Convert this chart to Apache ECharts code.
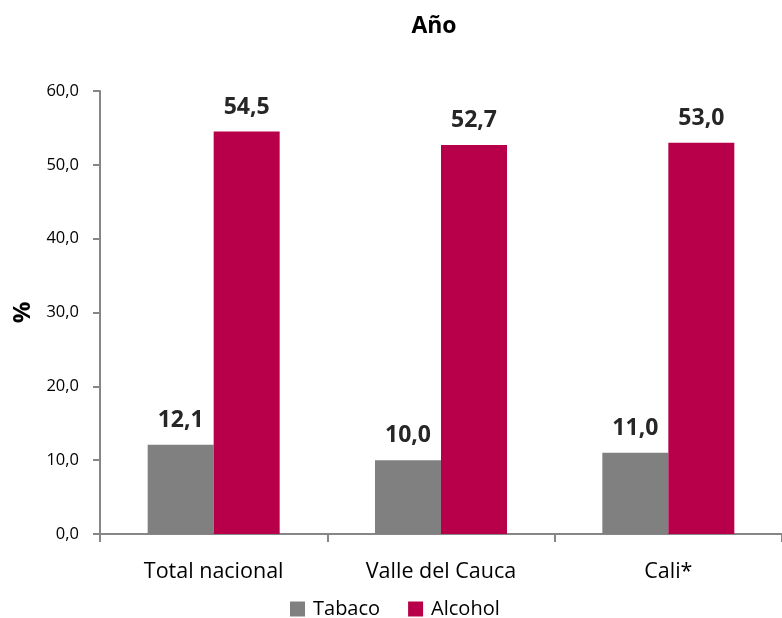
<!DOCTYPE html>
<html><head><meta charset="utf-8">
<script src="https://cdn.jsdelivr.net/npm/echarts@6/dist/echarts.min.js"></script>
<style>html,body{margin:0;padding:0;background:#fff}#c{width:782px;height:618px}</style>
</head><body><div id="c"></div>
<script>
const categories = ['Total nacional', 'Valle del Cauca', 'Cali*'];
const tabaco = [12.1, 10.0, 11.0];
const alcohol = [54.5, 52.7, 53.0];
const yTicks = [0, 10, 20, 30, 40, 50, 60];
const fmt = v => v.toFixed(1).replace('.', ',');
const font = '"Open Sans", "Noto Sans", sans-serif';
const chart = echarts.init(document.getElementById('c'), null, {renderer: 'canvas'});
const lbl = {show: true, position: 'top', distance: 13, fontFamily: font, fontWeight: 'bold', fontSize: 23, color: '#262626', formatter: p => fmt(p.value)};
chart.setOption({
  animation: false,
  textStyle: {fontFamily: font},
  title: {text: 'Año', left: 429, top: 10, textAlign: 'center', textStyle: {fontFamily: font, fontWeight: 'bold', fontSize: 23, color: '#000'}},
  legend: {top: 594, left: 285, itemWidth: 15, itemHeight: 15, itemGap: 28, icon: 'rect',
    textStyle: {fontFamily: font, fontSize: 20, color: '#000', padding: [0, 0, 0, 3]}, data: ['Tabaco', 'Alcohol']},
  grid: {left: 100, top: 91, width: 686, height: 443},
  xAxis: {type: 'category', data: categories,
    axisLine: {lineStyle: {color: '#868686', width: 2}},
    axisTick: {show: true, length: 8, lineStyle: {color: '#868686', width: 2}},
    axisLabel: {fontFamily: font, fontSize: 21.5, color: '#000', margin: 27}},
  yAxis: {type: 'value', min: 0, max: 60, interval: 10,
    name: '%', nameLocation: 'middle', nameGap: 64, nameRotate: 90,
    nameTextStyle: {fontFamily: font, fontWeight: 'bold', fontSize: 24, color: '#000'},
    axisLine: {show: true, lineStyle: {color: '#868686', width: 2}},
    axisTick: {show: true, length: 7, lineStyle: {color: '#868686', width: 2}},
    splitLine: {show: false},
    axisLabel: {fontFamily: font, fontSize: 16.5, color: '#000', margin: 21, formatter: v => fmt(v)}},
  series: [
    {name: 'Tabaco', type: 'bar', data: tabaco, barWidth: 66, barGap: '0%', itemStyle: {color: '#808080'}, label: lbl},
    {name: 'Alcohol', type: 'bar', data: alcohol, barWidth: 66, barGap: '0%', itemStyle: {color: '#B8004A'}, label: lbl}
  ]
});
</script></body></html>
